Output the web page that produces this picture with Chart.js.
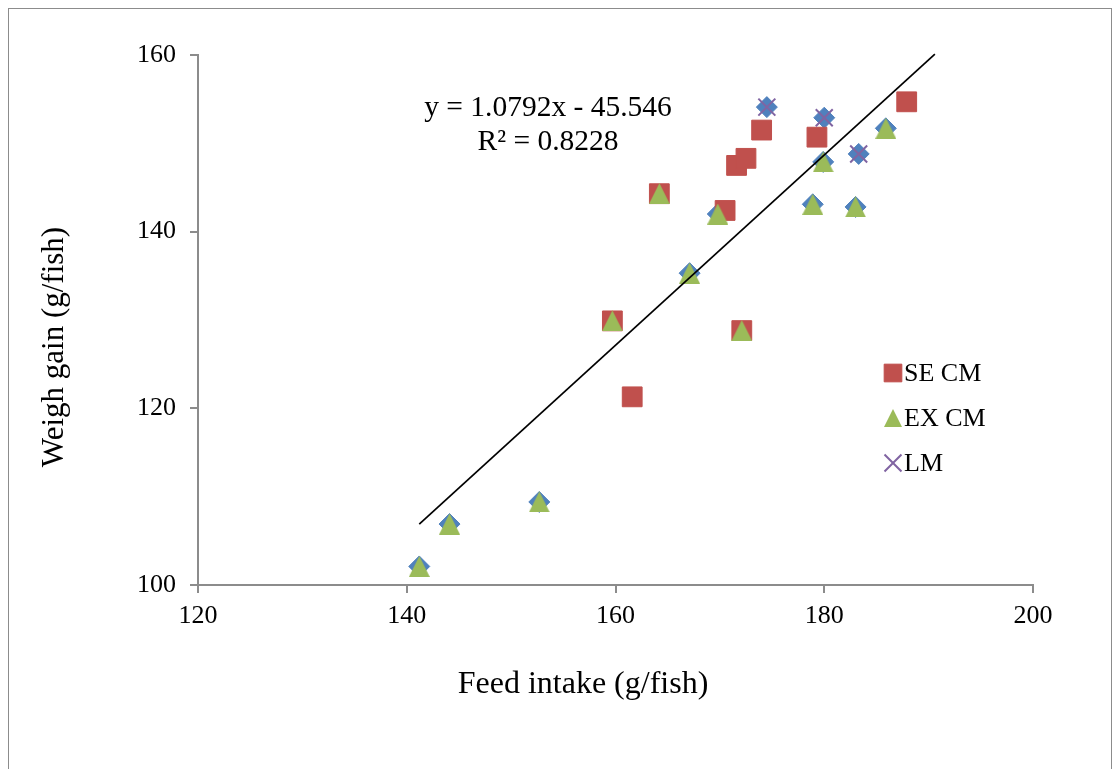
<!DOCTYPE html>
<html>
<head>
<meta charset="utf-8">
<script src="https://cdn.jsdelivr.net/npm/chart.js@4.4.0/dist/chart.umd.min.js"></script>
<style>
  html, body { margin: 0; padding: 0; background: #fff; }
  #wrap { position: relative; width: 1117px; height: 769px; overflow: hidden; }
  #frame { position: absolute; left: 8px; top: 8px; width: 1102px; height: 800px; border: 1px solid #8c8c8c; }
  canvas { position: absolute; left: 0; top: 0; }
</style>
</head>
<body>
<div id="wrap"><div id="frame"></div><canvas id="feed-chart" width="1117" height="769"></canvas></div>
<script>
// SE CM
var seX = [159.7, 161.6, 164.2, 170.5, 171.6, 172.5, 172.1, 174.0, 179.3, 187.9];
var seY = [129.9, 121.3, 144.3, 142.4, 147.5, 148.3, 128.8, 151.5, 150.7, 154.7];
// EX CM
var exX = [141.2, 144.1, 152.7, 159.7, 164.2, 167.1, 169.8, 172.1, 178.9, 179.9, 183.0, 185.9];
var exY = [102.1, 106.9, 109.4, 129.9, 144.3, 135.3, 142.0, 128.8, 143.1, 147.9, 142.8, 151.7];
// LM
var lmX = [174.5, 180.0, 183.3];
var lmY = [154.1, 152.9, 148.8];
// unlabelled blue series (not in legend)
var allX = [141.2, 144.1, 152.7, 167.1, 169.8, 178.9, 179.9, 183.0, 185.9, 174.5, 180.0, 183.3];
var allY = [102.1, 106.9, 109.4, 135.3, 142.0, 143.1, 147.9, 142.8, 151.7, 154.1, 152.9, 148.8];
// linear trendline end points
var trendX = [141.2, 190.6];
var trendY = [106.9, 160.1];

var xTicks = [120, 140, 160, 180, 200];
var yTicks = [100, 120, 140, 160];

function pts(xs, ys) {
  return xs.map(function (x, i) { return { x: x, y: ys[i] }; });
}

// Excel-like triangle, centred on its bounding box
function triangleMarker(w, h, color) {
  var c = document.createElement('canvas');
  c.width = w; c.height = h;
  var g = c.getContext('2d');
  g.fillStyle = color;
  g.beginPath();
  g.moveTo(w / 2, 0);
  g.lineTo(w, h);
  g.lineTo(0, h);
  g.closePath();
  g.fill();
  return c;
}

var serif = '"Liberation Serif", "Times New Roman", serif';
var axisGray = '#8c8c8c';
var triBig = triangleMarker(21, 21, '#9BBB59');
var triSmall = triangleMarker(18, 18, '#9BBB59');

var legendItems = [
  { text: 'SE CM', style: 'rect', radius: 12.5, color: '#C0504D', lw: 1 },
  { text: 'EX CM', style: triSmall, radius: 9, color: '#9BBB59', lw: 0 },
  { text: 'LM', style: 'crossRot', radius: 12, color: '#8064A2', lw: 2 }
];

var overlay = {
  id: 'overlay',
  afterDraw: function (chart) {
    var ctx = chart.ctx;
    ctx.save();
    ctx.fillStyle = '#000';
    ctx.textBaseline = 'middle';
    ctx.textAlign = 'center';
    // axis titles
    ctx.font = '32px ' + serif;
    ctx.fillText('Feed intake (g/fish)', 583, 685);
    ctx.save();
    ctx.translate(55, 347);
    ctx.rotate(-Math.PI / 2);
    ctx.font = '31px ' + serif;
    ctx.fillText('Weigh gain (g/fish)', 0, 0);
    ctx.restore();
    // trendline label
    ctx.font = '29.5px ' + serif;
    ctx.fillText('y = 1.0792x - 45.546', 548, 108);
    ctx.fillText('R² = 0.8228', 548, 142);
    // legend
    ctx.font = '26px ' + serif;
    legendItems.forEach(function (it, i) {
      var cy = 373 + i * 45;
      ctx.fillStyle = it.color;
      ctx.strokeStyle = it.color;
      ctx.lineWidth = it.lw;
      Chart.helpers.drawPoint(ctx, { pointStyle: it.style, radius: it.radius, rotation: 0, borderWidth: it.lw }, 893, cy);
      ctx.fillStyle = '#000';
      ctx.textAlign = 'left';
      ctx.fillText(it.text, 904, cy + 1);
    });
    ctx.restore();
  }
};

new Chart(document.getElementById('feed-chart').getContext('2d'), {
  type: 'scatter',
  data: {
    datasets: [
      { label: 'trend', type: 'line', data: pts(trendX, trendY), showLine: true, pointRadius: 0,
        borderColor: '#000', borderWidth: 1.7, fill: false, clip: 4 },
      { label: 'LM', data: pts(lmX, lmY), pointStyle: 'crossRot', pointRadius: 12,
        borderColor: '#8064A2', backgroundColor: '#8064A2', borderWidth: 2 },
      { label: 'EX CM', data: pts(exX, exY), pointStyle: triBig, pointRadius: 11 },
      { label: 'SE CM', data: pts(seX, seY), pointStyle: 'rect', pointRadius: 14,
        backgroundColor: '#C0504D', borderColor: '#C0504D', borderWidth: 1 },
      { label: 'all', data: pts(allX, allY), pointStyle: 'rectRot', pointRadius: 10.5,
        backgroundColor: '#4F81BD', borderColor: '#4F81BD', borderWidth: 1 }
    ]
  },
  options: {
    responsive: false,
    animation: false,
    layout: { padding: { left: 0, right: 84, top: 55, bottom: 0 } },
    plugins: { legend: { display: false }, tooltip: { enabled: false } },
    scales: {
      x: {
        type: 'linear', min: 120, max: 200,
        afterFit: function (s) { s.height = 184; },
        afterBuildTicks: function (s) { s.ticks = xTicks.map(function (v) { return { value: v }; }); },
        grid: { drawOnChartArea: false, drawTicks: true, tickLength: 8, color: axisGray, lineWidth: 2 },
        border: { display: true, color: axisGray, width: 2 },
        ticks: { color: '#000', font: { family: serif, size: 26 }, padding: 8, maxRotation: 0 },
        title: { display: false }
      },
      y: {
        type: 'linear', min: 100, max: 160,
        afterFit: function (s) { s.width = 198; },
        afterBuildTicks: function (s) { s.ticks = yTicks.map(function (v) { return { value: v }; }); },
        grid: { drawOnChartArea: false, drawTicks: true, tickLength: 8, color: axisGray, lineWidth: 2 },
        border: { display: true, color: axisGray, width: 2 },
        ticks: { color: '#000', font: { family: serif, size: 26 }, padding: 14 },
        title: { display: false }
      }
    }
  },
  plugins: [overlay]
});
</script>
</body>
</html>
